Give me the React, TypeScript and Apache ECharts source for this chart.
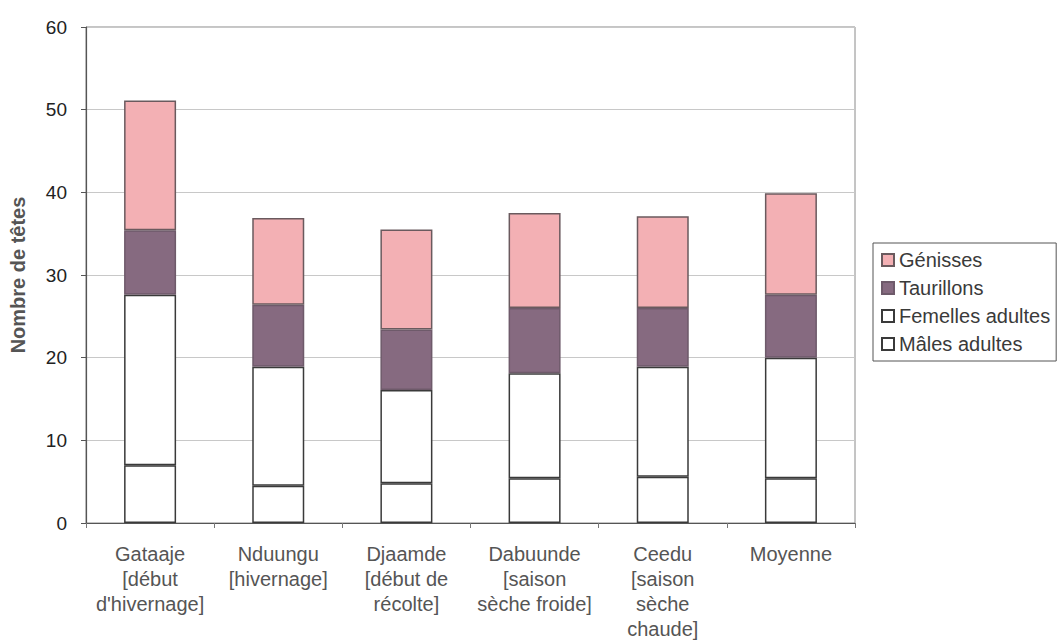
import React, { useEffect, useRef } from "react";
import * as echarts from "echarts";

const categories = [
  "Gataaje\n[début\nd'hivernage]",
  "Nduungu\n[hivernage]",
  "Djaamde\n[début de\nrécolte]",
  "Dabuunde\n[saison\nsèche froide]",
  "Ceedu\n[saison\nsèche\nchaude]",
  "Moyenne",
];
const malesAdultes = [7.0, 4.5, 4.8, 5.4, 5.6, 5.4];
const femellesAdultes = [20.6, 14.4, 11.3, 12.7, 13.3, 14.6];
const taurillons = [7.8, 7.5, 7.3, 7.9, 7.1, 7.6];
const genisses = [15.7, 10.5, 12.1, 11.5, 11.1, 12.3];
const yTicks = [0, 10, 20, 30, 40, 50, 60];

const FONT = "'Liberation Sans', Arial, sans-serif";

export default function App() {
  const ref = useRef<HTMLDivElement>(null);
  useEffect(() => {
    document.body.style.margin = "0";
    if (!ref.current) return;
    const chart = echarts.init(ref.current, undefined, { renderer: "svg" });
    const barBase = {
      type: "bar" as const,
      stack: "total",
      barWidth: 52,
      itemStyle: { borderColor: "#3a3a3a", borderWidth: 1.5 },
    };
    chart.setOption({
      animation: false,
      backgroundColor: "#ffffff",
      textStyle: { fontFamily: FONT },
      grid: { left: 82, right: 203, top: 27, bottom: 115, show: true, borderColor: "#8a8a8a", borderWidth: 1 },
      legend: {
        orient: "vertical",
        left: 873,
        top: 243,
        padding: [7, 6, 7, 8],
        itemGap: 8,
        itemWidth: 12,
        itemHeight: 12,
        icon: "rect",
        borderColor: "#555",
        borderWidth: 1,
        data: ["Génisses", "Taurillons", "Femelles adultes", "Mâles adultes"],
        textStyle: { fontSize: 20, color: "#3a3a3a", fontFamily: FONT },
      },
      xAxis: {
        type: "category",
        data: categories,
        axisLine: { lineStyle: { color: "#555", width: 1.2 } },
        axisTick: { show: true, length: 5, lineStyle: { color: "#777" } },
        axisLabel: { interval: 0, fontSize: 20, lineHeight: 25, margin: 18, color: "#555", fontFamily: FONT },
      },
      yAxis: {
        type: "value",
        min: yTicks[0],
        max: yTicks[yTicks.length - 1],
        interval: 10,
        name: "Nombre de têtes",
        nameLocation: "middle",
        nameGap: 58,
        nameTextStyle: { fontSize: 20, fontWeight: "bold", color: "#555", fontFamily: FONT },
        axisLine: { show: true, lineStyle: { color: "#555", width: 1.2 } },
        axisTick: { show: true, length: 5, lineStyle: { color: "#555" } },
        axisLabel: { fontSize: 19, margin: 19, color: "#222", fontFamily: FONT },
        splitLine: { show: true, lineStyle: { color: "#c8c8c8", width: 1 } },
      },
      series: [
        { ...barBase, name: "Mâles adultes", data: malesAdultes, itemStyle: { ...barBase.itemStyle, color: "#ffffff" } },
        { ...barBase, name: "Femelles adultes", data: femellesAdultes, itemStyle: { ...barBase.itemStyle, color: "#ffffff" } },
        { ...barBase, name: "Taurillons", data: taurillons, itemStyle: { ...barBase.itemStyle, color: "#866a80", borderColor: "#6e5a6a" } },
        { ...barBase, name: "Génisses", data: genisses, itemStyle: { ...barBase.itemStyle, color: "#f3b0b4", borderColor: "#6a5a5e" } },
      ],
    });
    return () => chart.dispose();
  }, []);
  return <div ref={ref} style={{ width: 1058, height: 641 }} />;
}
